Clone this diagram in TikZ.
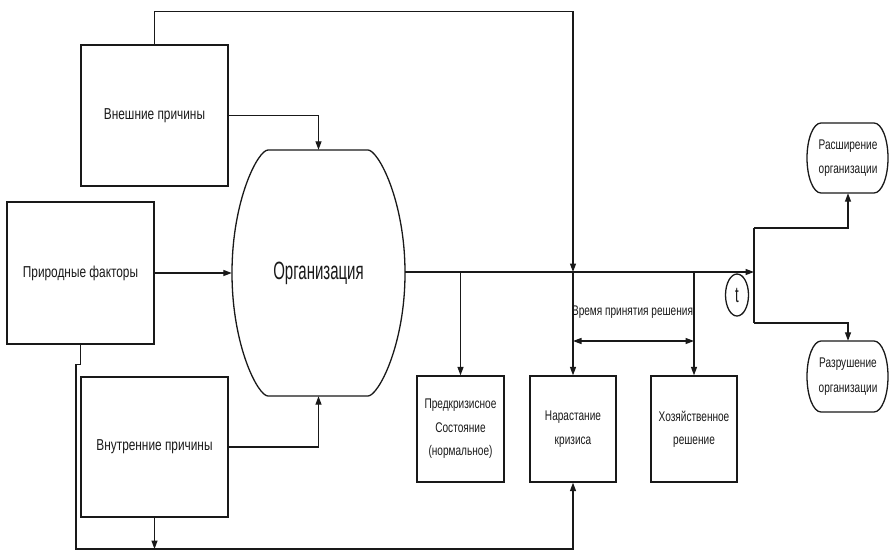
\documentclass[tikz,border=0pt]{standalone}
\usepackage{fontspec}
\setmainfont{Liberation Sans}
\newfontfamily\fntBig[FakeStretch=0.6]{Liberation Sans}
\newfontfamily\fntMid[FakeStretch=0.75]{Liberation Sans}
\newfontfamily\fntSmall[FakeStretch=0.72]{Liberation Sans}
\usetikzlibrary{arrows.meta,calc,shapes.geometric}
\tikzset{
  ln/.style={line width=1.3pt, draw=black!90},
  arr/.style={ln, -{Triangle[length=8.5pt,width=6pt]}},
  arrb/.style={ln, {Triangle[length=8.5pt,width=6pt]}-{Triangle[length=8.5pt,width=6pt]}},
  bigbox/.style={draw=black!90, line width=1.3pt, rectangle, inner sep=0pt,
     minimum width=147pt, minimum height=141pt, text=black!90,
     font=\fntMid\fontsize{15.8}{18}\selectfont},
  smallbox/.style={draw=black!90, line width=1.3pt, rectangle, inner sep=0pt,
     minimum width=86pt, minimum height=106pt, align=center, text=black!90,
     font=\fntSmall\fontsize{14}{23.5}\selectfont},
  lbl/.style={inner sep=0pt, align=center, text=black!90,
     font=\fntSmall\fontsize{14}{24.5}\selectfont},
}
\begin{document}
\begin{tikzpicture}[x=1pt,y=-1pt]
\useasboundingbox (0,0) rectangle (890,552);

% left boxes
\node[bigbox] (vn) at (154.5,115.5) {Внешние причины};
\node[bigbox, minimum height=142pt] (pf) at (80.5,273) {Природные факторы};
\node[bigbox, minimum height=140pt] (vt) at (154.5,447) {Внутренние причины};

% organisation shape
\draw[ln] (268,150) -- (368,150) .. controls (378,150) and (405,200) .. (405,273)
  .. controls (405,346) and (378,396) .. (368,396) -- (268,396)
  .. controls (258,396) and (232,346) .. (232,273)
  .. controls (232,200) and (258,150) .. (268,150) -- cycle;
\node[inner sep=0pt, minimum width=173pt, minimum height=246pt, text=black!90,
  font=\fntBig\fontsize{25}{28}\selectfont] (org) at (318.5,273) {Организация};

% lower boxes
\node[smallbox, minimum width=87pt] (pk) at (460.5,429) {Предкризисное\\Состояние\\(нормальное)};
\node[smallbox] (nk) at (573,429) {Нарастание\\кризиса};
\node[smallbox] (hr) at (694,429) {Хозяйственное\\решение};

% outcome stadiums
\draw[ln] (821,123) -- (874,123) .. controls (881.7,123) and (888,138.7) .. (888,158)
  .. controls (888,177.3) and (881.7,193) .. (874,193) -- (821,193)
  .. controls (813.3,193) and (807,177.3) .. (807,158)
  .. controls (807,138.7) and (813.3,123) .. (821,123) -- cycle;
\node[lbl, minimum width=81pt, minimum height=70pt] (rs) at (848,158) {Расширение\\организации};
\draw[ln] (821,341) -- (874,341) .. controls (881.7,341) and (888,356.9) .. (888,376.5)
  .. controls (888,396.1) and (881.7,412) .. (874,412) -- (821,412)
  .. controls (813.3,412) and (807,396.1) .. (807,376.5)
  .. controls (807,356.9) and (813.3,341) .. (821,341) -- cycle;
\node[lbl, minimum width=81pt, minimum height=71pt] (rz) at (848,376.5) {Разрушение\\организации};

% t ellipse
\node[draw=black!90, line width=1.3pt, ellipse, inner sep=0pt, minimum width=23pt,
  minimum height=42pt, text=black!90, font=\fntBig\fontsize{22}{24}\selectfont] (t) at (737,295) {t};

% coordinates
\coordinate (J) at (754,272);
\coordinate (ju) at (754,228);
\coordinate (jd) at (754,323);
\coordinate (da) at (0,341);
\coordinate (bl) at (76,549);

% connectors into organisation
\draw[arr] (vn.east) -| (org.north);
\draw[arr] (pf.east) -- (pf.east -| org.west);
\draw[arr] (vt.east) -| (org.south);

% main line
\draw[arr] (org.east |- J) -- (J);
\draw[ln] (ju) -- (jd);
\draw[arr] (ju) -| (rs.south);
\draw[arr] (jd) -| (rz.north);

% drops
\draw[arr] (pk.north |- J) -- (pk.north);
\draw[arr] (nk.north |- J) -- (nk.north);
\draw[arr] (hr.north |- J) -- (hr.north);

% top loop
\draw[arr] (vn.north) -- ++(0,-33) -| (nk.north |- J);

% decision time
\draw[arrb] (nk.north |- da) -- (hr.north |- da);
\node[lbl] (vr) at (632.5,312) {Время принятия решения};

% bottom loop
\draw[arr] (pf.south) -- ++(0,20) -| (bl) -| (nk.south);
\draw[arr] (vt.south) -- (vt.south |- bl);
\end{tikzpicture}
\end{document}
